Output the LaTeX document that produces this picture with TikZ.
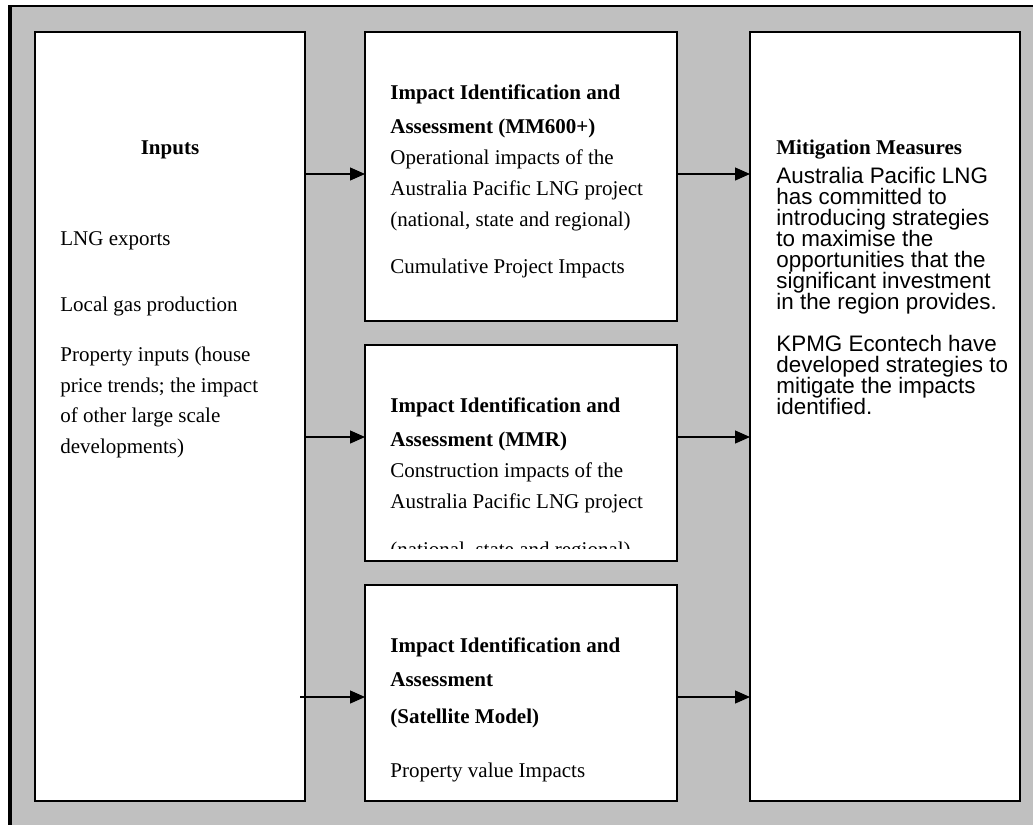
\documentclass[tikz,border=0pt]{standalone}
\usepackage{fontspec}
\setmainfont{Liberation Serif}
\newfontfamily\arialf{Liberation Sans}
\usetikzlibrary{arrows.meta}
\definecolor{bggray}{HTML}{C0C0C0}
\begin{document}
\begin{tikzpicture}[x=0.5pt,y=-0.5pt,
  panel/.style={draw=black, fill=white, line width=0.9pt, inner sep=0pt, outer sep=0pt, anchor=north west},
  arr/.style={line width=0.6pt, -{Triangle[length=7.5pt,width=6.5pt]}},
  ser/.style={font=\fontsize{10.5pt}{15.5pt}\selectfont, inner sep=0pt, anchor=base west},
  serb/.style={inner sep=0pt, anchor=base west, font=\fontsize{10.5pt}{15.5pt}\selectfont\bfseries},
  san/.style={font=\arialf\fontsize{11.2pt}{10.5pt}\selectfont, inner sep=0pt, anchor=base west}
]
\useasboundingbox (0,0) rectangle (1033,825);
% background and frame
\fill[bggray] (8,5) rectangle (1033,825);
\draw[line width=1pt] (8,6) -- (1033,6);
\draw[line width=1.6pt] (10,5) -- (10,825);
% panels
\node[panel, minimum width=135pt, minimum height=384.5pt] (L) at (35,32) {};
\node[panel, minimum width=156pt, minimum height=144.5pt] (M1) at (365,32) {};
\node[panel, minimum width=156pt, minimum height=108pt] (M2) at (365,345) {};
\node[panel, minimum width=156pt, minimum height=108pt] (M3) at (365,585) {};
\node[panel, minimum width=135pt, minimum height=384.5pt] (R) at (750,32) {};
% arrow levels
\coordinate (a1) at (0,174);
\coordinate (a2) at (0,437);
\coordinate (a3) at (0,697);
\draw[arr] (L.east |- a1) -- (M1.west |- a1);
\draw[arr] (L.east |- a2) -- (M2.west |- a2);
\draw[arr] ([xshift=-2.5pt]L.east |- a3) -- (M3.west |- a3);
\draw[arr] (M1.east |- a1) -- (R.west |- a1);
\draw[arr] (M2.east |- a2) -- (R.west |- a2);
\draw[arr] (M3.east |- a3) -- (R.west |- a3);
% left texts
\node[serb, anchor=base] (tIn) at (170,154) {Inputs};
\node[ser] (tL1) at (60,245) {LNG exports};
\node[ser] (tL2) at (60,311) {Local gas production};
\node[ser] (tL3) at (60,361) {Property inputs (house};
\node[ser] (tL4) at (60,392) {price trends; the impact};
\node[ser] (tL5) at (60,422) {of other large scale};
\node[ser] (tL6) at (60,453) {developments)};
% M1 texts
\node[serb] (tA1) at (390,99) {Impact Identification and};
\node[serb] (tA2) at (390,133) {Assessment (MM600+)};
\node[ser] (tA3) at (390,164) {Operational impacts of the};
\node[ser] (tA4) at (390,195) {Australia Pacific LNG project};
\node[ser] (tA5) at (390,226) {(national, state and regional)};
\node[ser] (tA6) at (390,273) {Cumulative Project Impacts};
% M2 texts
\node[serb] (tB1) at (390,412) {Impact Identification and};
\node[serb] (tB2) at (390,446) {Assessment (MMR)};
\node[ser] (tB3) at (390,477) {Construction impacts of the};
\node[ser] (tB4) at (390,508) {Australia Pacific LNG project};
\begin{scope}
\clip (365,345) rectangle (677,548);
\node[ser] (tB5) at (390,556) {(national, state and regional)};
\end{scope}
% M3 texts
\node[serb] (tC1) at (390,652) {Impact Identification and};
\node[serb] (tC2) at (390,686) {Assessment};
\node[serb] (tC3) at (390,723) {(Satellite Model)};
\node[ser] (tC4) at (390,777) {Property value Impacts};
% right texts
\node[serb] (tR0) at (776,154) {Mitigation Measures};
\node[san] (tR1) at (776,183) {Australia Pacific LNG};
\node[san] (tR2) at (776,204) {has committed to};
\node[san] (tR3) at (776,225) {introducing strategies};
\node[san] (tR4) at (776,246) {to maximise the};
\node[san] (tR5) at (776,267) {opportunities that the};
\node[san] (tR6) at (776,288) {significant investment};
\node[san] (tR7) at (776,309) {in the region provides.};
\node[san] (tR8) at (776,351) {KPMG Econtech have};
\node[san] (tR9) at (776,372) {developed strategies to};
\node[san] (tR10) at (776,393) {mitigate the impacts};
\node[san] (tR11) at (776,414) {identified.};
\end{tikzpicture}
\end{document}
